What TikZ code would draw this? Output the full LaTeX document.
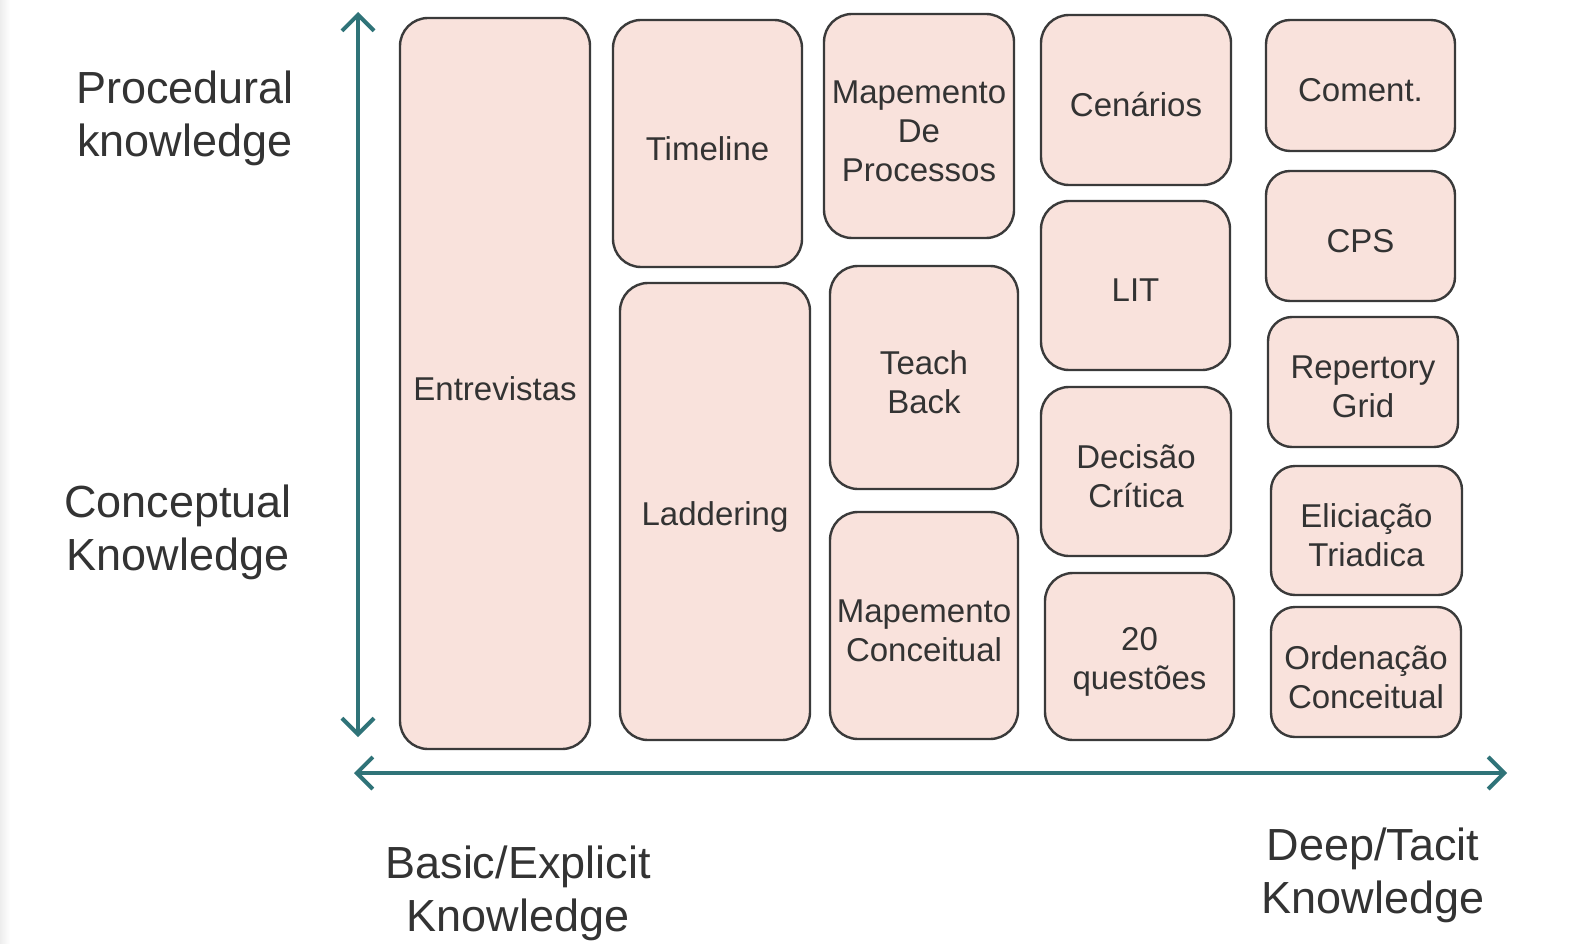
\documentclass[tikz,border=0pt]{standalone}
\usepackage{fontspec}
\setmainfont{Liberation Sans}
\usetikzlibrary{arrows.meta}
\definecolor{boxfill}{HTML}{F9E2DC}
\definecolor{boxline}{HTML}{3A3A3A}
\definecolor{axis}{HTML}{2F7378}
\definecolor{ink}{HTML}{333333}
% \techbox[corner radius]{name}{cx}{cy}{width}{height}{text}
\newcommand\techbox[7][28pt]{%
  \node[tech, rounded corners=#1, minimum width=#5pt, minimum height=#6pt] (#2) at (#3,#4) {};
  \node[techtext] (#2-text) at ([yshift=-5pt]#2.center) {#7};}
\begin{document}
\begin{tikzpicture}[x=1pt,y=-1pt,
  tech/.style={draw=boxline, line width=2.4pt, fill=boxfill, inner sep=0pt},
  techtext/.style={align=center, text=ink, inner sep=0pt,
    font=\fontsize{33}{39}\selectfont},
  axislabel/.style={align=center, text=ink, inner sep=0pt,
    font=\fontsize{45}{53}\selectfont},
  axisline/.style={draw=axis, line width=4pt,
    {Straight Barb[length=16pt,width=32pt,line width=4pt]}-{Straight Barb[length=16pt,width=32pt,line width=4pt]}}]
\useasboundingbox (0,0) rectangle (1594,944);
\fill[white] (0,0) rectangle (1594,944);
\shade[left color=black!7, right color=white] (0,0) rectangle (10,944);

% axes
\coordinate (ytop) at (358,12);
\coordinate (ybot) at (358,737);
\coordinate (xleft) at (354,773);
\coordinate (xright) at (1507,773);
\draw[axisline] (ybot) -- (ytop);
\draw[axisline] (xleft) -- (xright);

% axis labels
\node[axislabel] (proc) at (185,118) {Procedural\\knowledge};
\node[axislabel] (conc) at (178,532) {Conceptual\\Knowledge};
\node[axislabel] (basic) at (518,893) {Basic/Explicit\\Knowledge};
\node[axislabel] (deep) at (1373,875) {Deep/Tacit\\Knowledge};

% column 1
\techbox{entrev}{495}{383.5}{190}{731}{Entrevistas}
% column 2
\techbox{timeline}{707.5}{143.5}{189}{247}{Timeline}
\techbox{ladder}{715}{511.5}{190}{457}{Laddering}
% column 3
\techbox{mproc}{919}{126}{190}{224}{Mapemento\\De\\Processos}
\techbox{teach}{924}{377.5}{188}{223}{Teach\\Back}
\techbox{mconc}{924}{625.5}{188}{227}{Mapemento\\Conceitual}
% column 4
\techbox{cenar}{1136}{100}{190}{170}{Cenários}
\techbox{lit}{1135.5}{285.5}{189}{169}{LIT}
\techbox{decis}{1136}{471.5}{190}{169}{Decisão\\Crítica}
\techbox{quest}{1139.5}{656.5}{189}{167}{20\\questões}
% column 5
\techbox[24pt]{coment}{1360.5}{85.5}{189}{131}{Coment.}
\techbox[24pt]{cps}{1360.5}{236}{189}{130}{CPS}
\techbox[24pt]{rgrid}{1363}{382}{190}{130}{Repertory\\Grid}
\techbox[24pt]{elic}{1366.5}{530.5}{191}{129}{Eliciação\\Triadica}
\techbox[24pt]{orden}{1366}{672}{190}{130}{Ordenação\\Conceitual}
\end{tikzpicture}
\end{document}
